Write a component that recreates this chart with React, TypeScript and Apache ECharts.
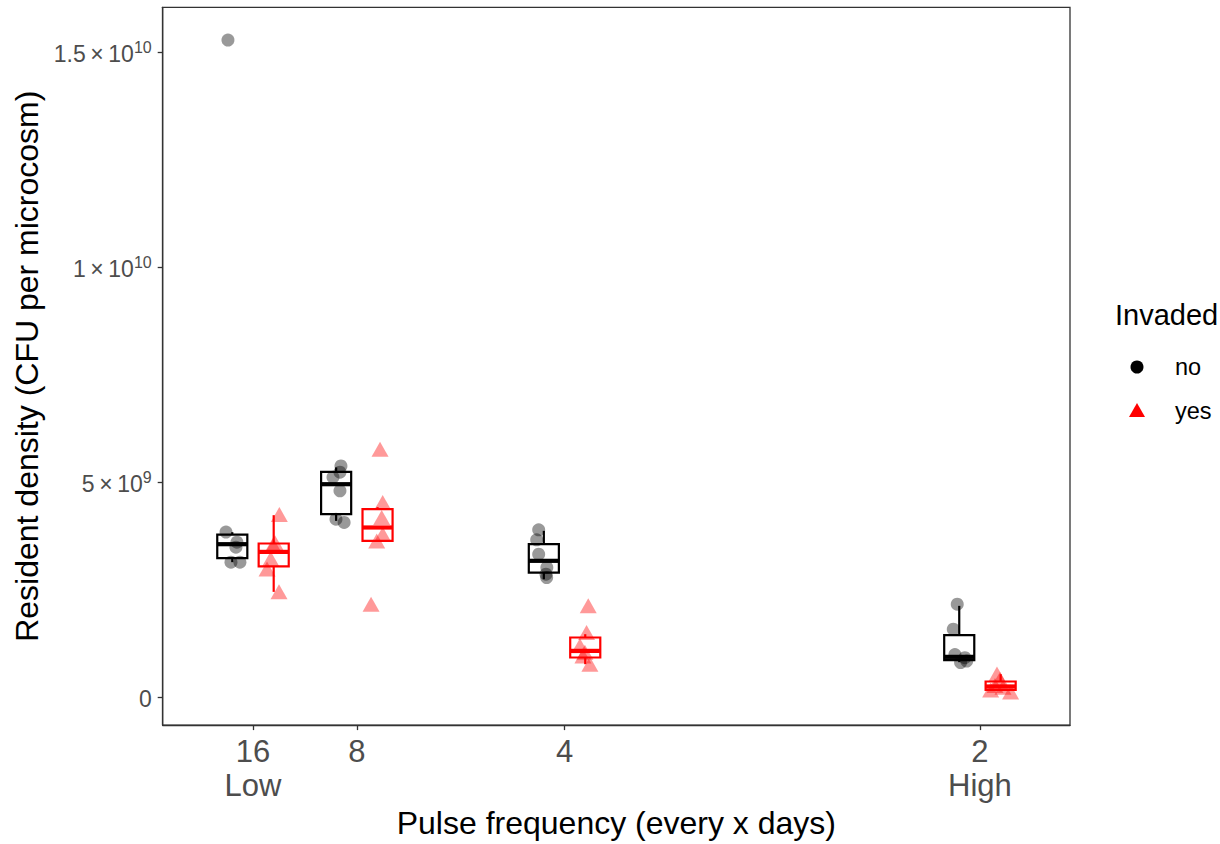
import React, { useEffect, useRef } from "react";
import * as echarts from "echarts";

// ---------- data ----------
const FREQ = [1 / 16, 1 / 8, 1 / 4, 1 / 2]; // pulses per day (every x days)
const TICK_LABELS = ["16\nLow", "8", "4", "2\nHigh"];
const Y_TICKS = [0, 5e9, 1e10, 1.5e10];

// box stats per frequency [min, q1, median, q3, max] (x 1e9)
const BOX_NO = [
  [3.14, 3.233, 3.558, 3.779, 3.837],
  [4.1, 4.256, 4.953, 5.24, 5.342],
  [2.744, 2.899, 3.171, 3.558, 3.868],
  [0.814, 0.86, 0.938, 1.442, 2.124],
];
const BOX_YES = [
  [2.449, 3.04, 3.379, 3.574, 4.233],
  [3.635, 3.635, 3.946, 4.372, 4.419],
  [0.767, 0.923, 1.077, 1.388, 1.465],
  [0.14, 0.17, 0.249, 0.365, 0.535],
];

// individual microcosms (x 1e9) and horizontal jitter (in axis units)
const PTS_NO = [
  [3.84, 3.605, 3.488, 3.14, 3.14, 15.28],
  [5.379, 5.233, 5.116, 4.798, 4.14, 4.063],
  [3.891, 3.659, 3.326, 3.016, 2.86, 2.783],
  [2.163, 1.581, 0.99, 0.92, 0.84, 0.806],
];
const JIT_NO = [
  [-0.0038, 0.0028, 0.0022, -0.0008, 0.0046, -0.0026],
  [0.0029, 0.0023, -0.0019, 0.0023, -0.0001, 0.0048],
  [-0.0031, -0.0043, -0.0031, 0.0018, 0.0013, 0.0017],
  [-0.0012, -0.0036, -0.0026, 0.0034, 0.0045, 0.0008],
];
const PTS_YES = [
  [4.25, 3.59, 3.54, 3.22, 2.98, 2.45],
  [5.767, 4.528, 4.18, 3.791, 3.635, 2.163],
  [2.124, 1.504, 1.194, 1.047, 0.96, 0.767],
  [0.54, 0.42, 0.27, 0.23, 0.17, 0.12],
];
const JIT_YES = [
  [0.0034, 0.0008, -0.0004, -0.0018, -0.004, 0.0032],
  [0.0015, 0.0031, 0.0025, 0.0031, -0.0005, -0.0039],
  [0.0018, 0.0008, -0.0032, -0.0002, -0.0014, 0.0028],
  [-0.0022, -0.0004, -0.0034, 0.0014, -0.006, 0.006],
];

const SCALE = 1e9;
const DODGE = 0.01246;
const BOX_W = 0.0181;
const X_MIN = 0.00816;
const X_MAX = 0.5542;
const Y_MIN = -0.649e9;
const Y_MAX = 1.6043e10;
const FONT = "'Liberation Sans', Arial, Helvetica, sans-serif";

function boxRows(stats: number[][], side: number) {
  return stats.map((s, i) => [FREQ[i] + side * DODGE, ...s.map((v) => v * SCALE)]);
}
function pointRows(pts: number[][], jit: number[][], side: number) {
  const out: number[][] = [];
  pts.forEach((g, i) =>
    g.forEach((v, j) => out.push([FREQ[i] + side * DODGE + jit[i][j], v * SCALE]))
  );
  return out;
}

function boxRenderer(color: string) {
  return (params: any, api: any) => {
    const x = api.value(0);
    const c = (v: number) => api.coord([x, v]);
    const [cx, yMin] = c(api.value(1));
    const yQ1 = c(api.value(2))[1];
    const yMed = c(api.value(3))[1];
    const yQ3 = c(api.value(4))[1];
    const yMax = c(api.value(5))[1];
    const half = api.size([BOX_W, 0])[0] / 2;
    return {
      type: "group",
      children: [
        { type: "line", shape: { x1: cx, y1: yMax, x2: cx, y2: yQ3 }, style: { stroke: color, lineWidth: 2.2 } },
        { type: "line", shape: { x1: cx, y1: yQ1, x2: cx, y2: yMin }, style: { stroke: color, lineWidth: 2.2 } },
        {
          type: "rect",
          shape: { x: cx - half, y: yQ3, width: 2 * half, height: yQ1 - yQ3 },
          style: { fill: "#ffffff", stroke: color, lineWidth: 2.2 },
        },
        { type: "line", shape: { x1: cx - half, y1: yMed, x2: cx + half, y2: yMed }, style: { stroke: color, lineWidth: 4.2 } },
      ],
    };
  };
}

function yLabel(v: number) {
  if (Math.abs(v) < 1) return "{m|0}";
  const e = Math.floor(Math.log10(v) + 1e-9);
  const m = +(v / Math.pow(10, e)).toFixed(2);
  return `{m|${m}\u2009×\u200910}{s|${e}}`;
}

export default function App() {
  const ref = useRef<HTMLDivElement>(null);
  useEffect(() => {
    if (!ref.current) return;
    const chart = echarts.init(ref.current, undefined, { renderer: "svg" });
    chart.setOption({
      animation: false,
      backgroundColor: "#ffffff",
      grid: {
        left: 162.7,
        right: 150,
        top: 7.3,
        bottom: 116.7,
        show: true,
        borderColor: "#333333",
        borderWidth: 1.3,
        backgroundColor: "transparent",
      },
      xAxis: {
        type: "value",
        min: X_MIN,
        max: X_MAX,
        name: "Pulse frequency (every x days)",
        nameLocation: "middle",
        nameGap: 81,
        nameTextStyle: { fontSize: 32, color: "#000000", fontFamily: FONT },
        axisLine: { show: true, onZero: false, lineStyle: { color: "#333333", width: 1.3 } },
        splitLine: { show: false },
        axisTick: { show: true, customValues: FREQ, length: 5, lineStyle: { color: "#333333", width: 1.3 } },
        axisLabel: {
          customValues: FREQ,
          formatter: (v: number) => {
            const i = FREQ.findIndex((f) => Math.abs(f - v) < 1e-9);
            return i >= 0 ? TICK_LABELS[i] : "";
          },
          fontSize: 31,
          lineHeight: 34,
          color: "#4d4d4d",
          fontFamily: FONT,
          margin: 9,
        },
      },
      yAxis: {
        type: "value",
        min: Y_MIN,
        max: Y_MAX,
        name: "Resident density (CFU per microcosm)",
        nameLocation: "middle",
        nameGap: 120,
        nameTextStyle: { fontSize: 32, color: "#000000", fontFamily: FONT },
        axisLine: { show: true, onZero: false, lineStyle: { color: "#333333", width: 1.3 } },
        splitLine: { show: false },
        axisTick: { show: true, customValues: Y_TICKS, length: 5, lineStyle: { color: "#333333", width: 1.3 } },
        axisLabel: {
          customValues: Y_TICKS,
          formatter: yLabel,
          margin: 11,
          color: "#4d4d4d",
          rich: {
            m: { fontSize: 23, color: "#4d4d4d", fontFamily: FONT, verticalAlign: "bottom", lineHeight: 26 },
            s: { fontSize: 16, color: "#4d4d4d", fontFamily: FONT, verticalAlign: "bottom", lineHeight: 26, padding: [0, 0, 10, 0] },
          },
        },
      },
      series: [
        {
          name: "box-no",
          type: "custom",
          renderItem: boxRenderer("#000000"),
          encode: { x: 0, y: [1, 2, 3, 4, 5] },
          data: boxRows(BOX_NO, -1),
          z: 2,
        },
        {
          name: "box-yes",
          type: "custom",
          renderItem: boxRenderer("#ff0000"),
          encode: { x: 0, y: [1, 2, 3, 4, 5] },
          data: boxRows(BOX_YES, 1),
          z: 2,
        },
        {
          name: "no",
          type: "scatter",
          symbol: "circle",
          symbolSize: 13,
          itemStyle: { color: "rgba(0,0,0,0.5)" },
          data: pointRows(PTS_NO, JIT_NO, -1),
          z: 3,
        },
        {
          name: "yes",
          type: "scatter",
          symbol: "triangle",
          symbolSize: [17, 15],
          itemStyle: { color: "rgba(255,0,0,0.5)" },
          data: pointRows(PTS_YES, JIT_YES, 1),
          z: 3,
        },
      ],
      graphic: [
        {
          type: "text",
          left: 1115,
          top: 300,
          style: { text: "Invaded", fontSize: 29, fill: "#000000", fontFamily: FONT },
        },
        { type: "circle", shape: { cx: 1137, cy: 367, r: 6.5 }, style: { fill: "#000000" } },
        {
          type: "polygon",
          shape: { points: [[1137, 403], [1145, 417], [1129, 417]] },
          style: { fill: "#ff0000" },
        },
        {
          type: "text",
          left: 1175,
          top: 355,
          style: { text: "no", fontSize: 23.5, fill: "#000000", fontFamily: FONT },
        },
        {
          type: "text",
          left: 1175,
          top: 399,
          style: { text: "yes", fontSize: 23.5, fill: "#000000", fontFamily: FONT },
        },
      ],
    });
    return () => chart.dispose();
  }, []);
  return (
    <div
      ref={ref}
      style={{ position: "fixed", left: 0, top: 0, width: 1220, height: 844, background: "#fff" }}
    />
  );
}
